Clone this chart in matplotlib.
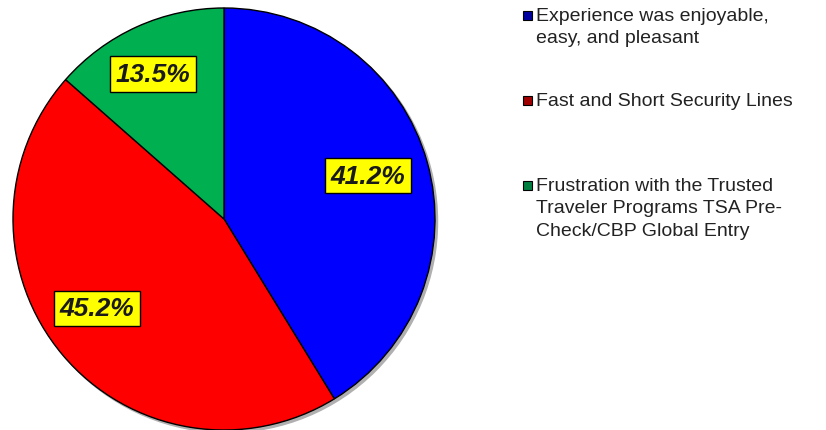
import matplotlib.pyplot as plt
from matplotlib.patches import Rectangle, Circle

# Data
labels = ["Experience was enjoyable,\neasy, and pleasant",
          "Fast and Short Security Lines",
          "Frustration with the Trusted\nTraveler Programs TSA Pre-\nCheck/CBP Global Entry"]
values = [41.2, 45.2, 13.5]
colors = ["#0000FF", "#FF0000", "#00B050"]
legend_colors = ["#0000A0", "#A00000", "#008040"]

plt.rcParams['font.family'] = ['Liberation Sans', 'DejaVu Sans']

fig = plt.figure(figsize=(8.26, 4.31), dpi=100)
W, H = 826, 431

# pie axes in pixel terms: center (224, 220), radius 211
ax = fig.add_axes([13 / W, 0 / H, 422 / W, 422 / H])
ax.set_aspect('equal')
ax.axis('off')

# soft shadow
ax.add_patch(Circle((0.012, -0.012), 1.0, color='#b0b0b0', zorder=0, clip_on=False))

wedges, texts, autotexts = ax.pie(
    values, colors=colors, startangle=90, counterclock=False,
    autopct='%1.1f%%', pctdistance=0.72, radius=1.0,
    wedgeprops=dict(edgecolor='black', linewidth=1.0),
    textprops=dict(fontsize=19, fontweight='bold', fontstyle='italic', color='#1a1a1a'))
ax.set_xlim(-1, 1)
ax.set_ylim(-1, 1)

# small nudges of the labels (data units)
nudges = [(-0.01, 0.01), (-0.05, 0.04), (-0.04, 0.03)]
for t, (dx, dy) in zip(autotexts, nudges):
    x, y = t.get_position()
    t.set_position((x + dx, y + dy))
    t.set_bbox(dict(boxstyle='square,pad=0.22', facecolor='#FFFF00', edgecolor='black', linewidth=1.0))

# legend
ys = [16, 101, 186]
for lab, c, y in zip(labels, legend_colors, ys):
    fig.patches.append(Rectangle(((523) / W, 1 - (y + 5) / H), 9 / W, 9 / H,
                                 transform=fig.transFigure, facecolor=c,
                                 edgecolor='black', linewidth=0.8))
    fig.text(536 / W, 1 - (y - 8) / H, lab, fontsize=14, color='#222222',
             va='top', ha='left', linespacing=1.42)

fig.savefig('out.png', dpi=100)
